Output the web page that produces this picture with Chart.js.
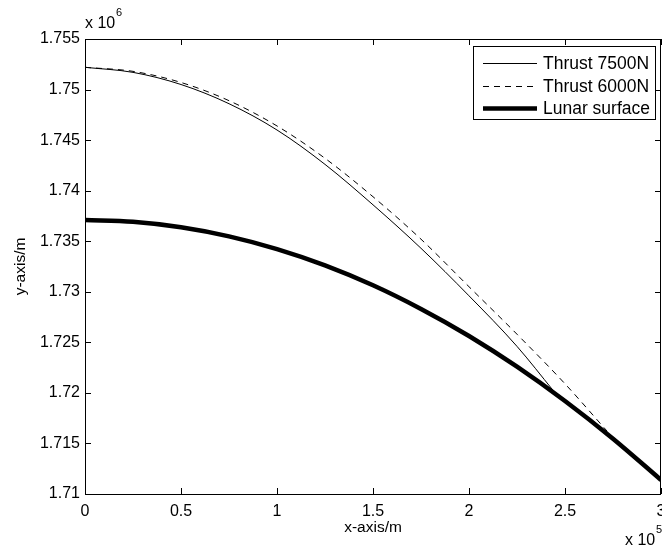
<!DOCTYPE html>
<html>
<head>
<meta charset="utf-8">
<script src="https://cdn.jsdelivr.net/npm/chart.js@4/dist/chart.umd.min.js"></script>
<style>
  html, body { margin: 0; padding: 0; background: #fff; }
  #wrap { width: 662px; height: 546px; }
</style>
</head>
<body>
<div id="wrap"><canvas id="chart" width="662" height="546"></canvas></div>
<script>
// x values in units of 1e5 m, y values in units of 1e6 m (as on the axes)

// Thrust 7500N trajectory
var x7500 = [0, 0.25, 0.5, 0.75, 1.0, 1.25, 1.5, 1.75, 2.0, 2.25, 2.44];
var y7500 = [1.7522, 1.7517, 1.7505, 1.7486, 1.7460, 1.7426, 1.7386, 1.7343, 1.7296, 1.7246, 1.7202];

// Thrust 6000N trajectory
var x6000 = [0, 0.25, 0.5, 0.75, 1.0, 1.25, 1.5, 1.75, 2.0, 2.25, 2.5, 2.72];
var y6000 = [1.7522, 1.7518, 1.7507, 1.7489, 1.7464, 1.7432, 1.7394, 1.7352, 1.7305, 1.7258, 1.7209, 1.7162];

// Lunar surface
var xLunar = [0, 0.25, 0.5, 0.75, 1.0, 1.25, 1.5, 1.75, 2.0, 2.25, 2.5, 2.75, 3.0];
var yLunar = [1.73710, 1.73692, 1.73638, 1.73548, 1.73422, 1.73261, 1.73064, 1.72830, 1.72563, 1.72259, 1.71920, 1.71547, 1.71139];

// Series labels
var seriesNames = ['Thrust 7500N', 'Thrust 6000N', 'Lunar surface'];

// Axis ticks
var xTicks = [0, 0.5, 1, 1.5, 2, 2.5, 3];
var yTicks = [1.71, 1.715, 1.72, 1.725, 1.73, 1.735, 1.74, 1.745, 1.75, 1.755];

var FONT = 'Liberation Sans, Arial, Helvetica, sans-serif';

function toPoints(xs, ys) {
  return xs.map(function (x, i) { return { x: x, y: ys[i] }; });
}

// Draw the MATLAB style box, inward ticks, exponent notes and legend
var matlabPlugin = {
  id: 'matlabBox',
  afterDraw: function (chart) {
    var ctx = chart.ctx;
    var area = chart.chartArea;
    var xs = chart.scales.x;
    var ys = chart.scales.y;
    var tl = 6;

    ctx.save();
    ctx.strokeStyle = '#000';
    ctx.lineWidth = 1;

    // box
    ctx.strokeRect(Math.round(area.left) + 0.5, Math.round(area.top) + 0.5,
      Math.round(area.right - area.left) - 1, Math.round(area.bottom - area.top));

    // inward ticks
    ctx.beginPath();
    xTicks.forEach(function (v) {
      var px = Math.round(xs.getPixelForValue(v)) + 0.5;
      ctx.moveTo(px, area.bottom);
      ctx.lineTo(px, area.bottom - tl);
      ctx.moveTo(px, area.top);
      ctx.lineTo(px, area.top + tl);
    });
    yTicks.forEach(function (v) {
      var py = Math.round(ys.getPixelForValue(v)) + 0.5;
      ctx.moveTo(area.left, py);
      ctx.lineTo(area.left + tl, py);
      ctx.moveTo(area.right, py);
      ctx.lineTo(area.right - tl, py);
    });
    ctx.stroke();

    // exponent notes
    ctx.fillStyle = '#000';
    ctx.textBaseline = 'alphabetic';
    ctx.textAlign = 'left';
    ctx.font = '16px ' + FONT;
    ctx.fillText('x 10', 85, 28);
    ctx.font = '11px ' + FONT;
    ctx.fillText('6', 116, 16);
    ctx.font = '16px ' + FONT;
    ctx.fillText('x 10', 625, 545);
    ctx.font = '11px ' + FONT;
    ctx.fillText('5', 656, 533);

    // legend
    var lx = 473, ly = 46, lw = 182, lh = 73;
    ctx.fillStyle = '#fff';
    ctx.fillRect(lx, ly, lw, lh);
    ctx.strokeStyle = '#000';
    ctx.lineWidth = 1;
    ctx.strokeRect(lx + 0.5, ly + 0.5, lw, lh);

    var rows = [63, 86, 108];
    chart.data.datasets.forEach(function (ds, i) {
      var y = rows[i] + 0.5;
      ctx.beginPath();
      ctx.setLineDash(ds.borderDash || []);
      ctx.lineWidth = ds.borderWidth;
      ctx.strokeStyle = ds.borderColor;
      ctx.moveTo(483, y);
      ctx.lineTo(537, y);
      ctx.stroke();
      ctx.setLineDash([]);
      ctx.fillStyle = '#000';
      ctx.font = '17.5px ' + FONT;
      ctx.textBaseline = 'middle';
      ctx.fillText(ds.label, 543, rows[i] + 1);
    });
    ctx.restore();
  }
};

var ctx = document.getElementById('chart').getContext('2d');
var myChart = new Chart(ctx, {
  type: 'line',
  data: {
    datasets: [{
      label: seriesNames[0],
      data: toPoints(x7500, y7500),
      borderColor: '#000',
      borderWidth: 1,
      pointRadius: 0,
      cubicInterpolationMode: 'monotone'
    }, {
      label: seriesNames[1],
      data: toPoints(x6000, y6000),
      borderColor: '#000',
      borderWidth: 1,
      borderDash: [6, 5],
      pointRadius: 0,
      cubicInterpolationMode: 'monotone'
    }, {
      label: seriesNames[2],
      data: toPoints(xLunar, yLunar),
      borderColor: '#000',
      borderWidth: 4.5,
      pointRadius: 0,
      cubicInterpolationMode: 'monotone'
    }]
  },
  options: {
    responsive: false,
    animation: false,
    events: [],
    layout: { autoPadding: false, padding: { top: 39, right: 1, left: 0, bottom: 0 } },
    plugins: {
      legend: { display: false },
      tooltip: { enabled: false }
    },
    scales: {
      x: {
        type: 'linear',
        min: 0,
        max: 3,
        afterFit: function (scale) {
          scale.height = 52;
          scale.paddingLeft = 0;
          scale.paddingRight = 0;
        },
        afterBuildTicks: function (scale) {
          scale.ticks = xTicks.map(function (v) { return { value: v }; });
        },
        grid: { display: false, drawTicks: false },
        border: { display: false },
        ticks: {
          color: '#000',
          padding: 8,
          maxRotation: 0,
          autoSkip: false,
          font: { family: FONT, size: 16 },
          callback: function (v) { return String(Number(v.toFixed(3))); }
        },
        title: {
          display: true,
          text: 'x-axis/m',
          color: '#000',
          font: { family: FONT, size: 15.5 },
          padding: { top: 0, bottom: 9 }
        }
      },
      y: {
        type: 'linear',
        min: 1.71,
        max: 1.755,
        afterFit: function (scale) {
          scale.width = 85;
          scale.paddingTop = 0;
          scale.paddingBottom = 0;
        },
        afterBuildTicks: function (scale) {
          scale.ticks = yTicks.map(function (v) { return { value: v }; });
        },
        grid: { display: false, drawTicks: false },
        border: { display: false },
        ticks: {
          color: '#000',
          padding: 5,
          autoSkip: false,
          font: { family: FONT, size: 16 },
          callback: function (v) { return String(Number(v.toFixed(3))); }
        },
        title: {
          display: true,
          text: 'y-axis/m',
          color: '#000',
          font: { family: FONT, size: 15.5 },
          padding: { top: 11, bottom: 0 }
        }
      }
    }
  },
  plugins: [matlabPlugin]
});
</script>
</body>
</html>
